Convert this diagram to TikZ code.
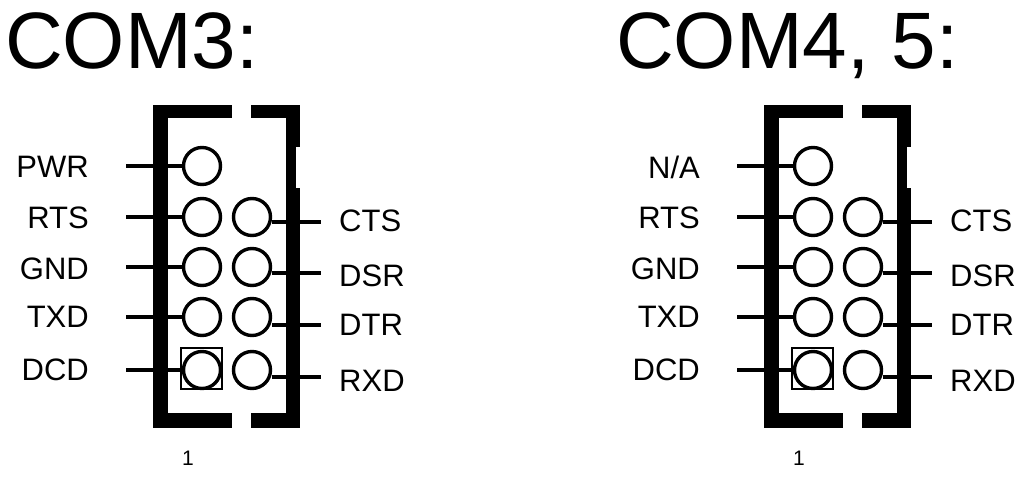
\documentclass[tikz,border=0pt]{standalone}
\usepackage{fontspec}
\setmainfont{Liberation Sans}
\begin{document}
\begin{tikzpicture}[x=1pt,y=-1pt,
  pin/.style={circle,draw,line width=3.4pt,minimum size=37pt,inner sep=0pt},
  wire/.style={line width=3.8pt},
  lbl/.style={font=\fontsize{31}{31}\selectfont,inner sep=0pt},
  ttl/.style={font=\fontsize{80}{80}\selectfont,inner sep=0pt,anchor=base west},
  hdr/.style={fill=black}]
\useasboundingbox (0,0) rectangle (1034,488);
\foreach \o/\lab/\ttltext/\p in {0/PWR/COM3:/a,611/N\slash A/{COM4, 5:}/b}{
  \begin{scope}[xshift=\o]
  \node[ttl] (t\p) at (5,68) {\ttltext};
  \fill[hdr] (153,105) rectangle (300,428);
  \fill[white] (168,118) rectangle (286,413);
  \fill[white] (232,105) rectangle (251,118);
  \fill[white] (232,413) rectangle (251,428);
  \fill[white] (296,147) rectangle (300,188);
  \draw[line width=1.3pt] (181,348) rectangle (222,389);
  \node[pin] (L1\p) at (202,166) {};
  \node[pin] (L2\p) at (202,217) {};
  \node[pin] (L3\p) at (202,267) {};
  \node[pin] (L4\p) at (202,317) {};
  \node[pin] (L5\p) at (202,370) {};
  \node[pin] (R2\p) at (252,217) {};
  \node[pin] (R3\p) at (252,267) {};
  \node[pin] (R4\p) at (252,317) {};
  \node[pin] (R5\p) at (252,370) {};
  \coordinate (cl1\p) at (126,166);
  \coordinate (cl2\p) at (126,217);
  \coordinate (cl3\p) at (126,267);
  \coordinate (cl4\p) at (126,317);
  \coordinate (cl5\p) at (126,370);
  \coordinate (cr2\p) at (321,222);
  \coordinate (cr3\p) at (321,273);
  \coordinate (cr4\p) at (321,325);
  \coordinate (cr5\p) at (321,377);
  \foreach \i in {1,...,5}{\draw[wire] (cl\i\p) -- (L\i\p.west);}
  \foreach \i in {2,...,5}{\draw[wire] (R\i\p.east|-cr\i\p) -- (cr\i\p);}
  \node[lbl,anchor=east] (n1\p) at (89,167) {\lab};
  \node[lbl,anchor=east] (n2\p) at (89,218) {RTS};
  \node[lbl,anchor=east] (n3\p) at (89,269) {GND};
  \node[lbl,anchor=east] (n4\p) at (89,317) {TXD};
  \node[lbl,anchor=east] (n5\p) at (89,370) {DCD};
  \node[lbl,anchor=west] (m2\p) at (339,221) {CTS};
  \node[lbl,anchor=west] (m3\p) at (339,276) {DSR};
  \node[lbl,anchor=west] (m4\p) at (339,325) {DTR};
  \node[lbl,anchor=west] (m5\p) at (339,381) {RXD};
  \node[font=\fontsize{21}{21}\selectfont,inner sep=0pt] (one\p) at (188,458) {1};
  \end{scope}}
\end{tikzpicture}
\end{document}
